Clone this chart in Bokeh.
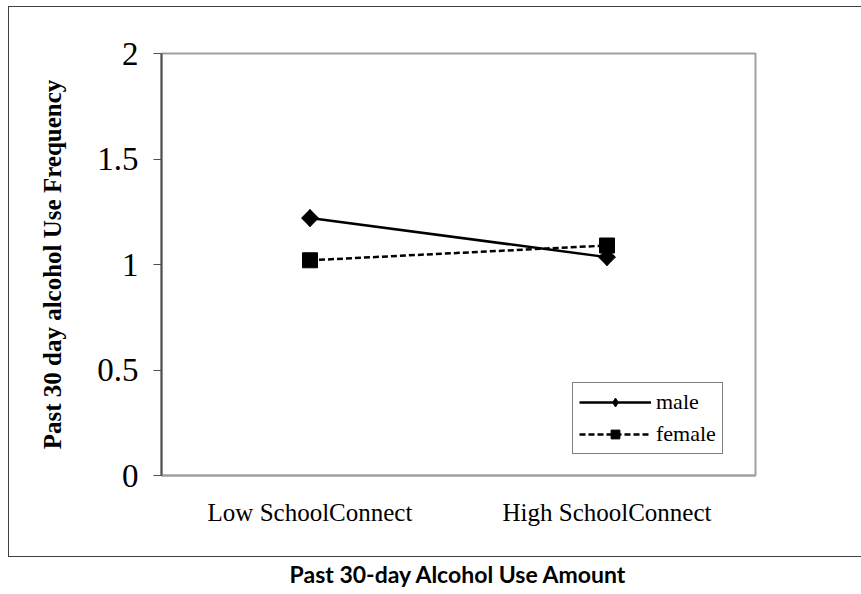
import math
from bokeh.plotting import figure
from bokeh.models import ColumnDataSource, Legend, LegendItem, FactorRange, InlineStyleSheet
from bokeh.embed import file_html
from bokeh.resources import INLINE

categories = ["Low SchoolConnect", "High SchoolConnect"]
male = [1.22, 1.035]
female = [1.02, 1.09]
y_ticks = [0, 0.5, 1, 1.5, 2]
y_title = "Past 30 day alcohol Use Frequency"
bottom_title = "Past 30-day Alcohol Use Amount"

p = figure(width=861, height=594, x_range=FactorRange(*categories), y_range=(0, 2),
           output_backend="svg", toolbar_location=None,
           min_border_left=161, min_border_right=106, min_border_top=53, min_border_bottom=119)
p.background_fill_color = "white"
p.border_fill_color = "white"
p.xgrid.visible = False
p.ygrid.visible = False
p.x_range.range_padding = 0
p.outline_line_color = "#a0a0a0"
p.outline_line_width = 2

# y axis
p.yaxis.ticker = y_ticks
p.yaxis.major_label_overrides = {0: "0", 0.5: "0.5", 1: "1", 1.5: "1.5", 2: "2"}
p.yaxis.axis_line_color = "#505050"
p.yaxis.axis_line_width = 2
p.yaxis.major_tick_line_color = "#505050"
p.yaxis.major_tick_out = 8
p.yaxis.major_tick_in = 0
p.yaxis.minor_tick_line_color = None
p.yaxis.major_label_text_font = "Liberation Serif"
p.yaxis.major_label_text_font_size = "33px"
p.yaxis.major_label_text_color = "black"
p.yaxis.major_label_standoff = 15
p.yaxis.axis_label = y_title
p.yaxis.axis_label_text_font = "Liberation Serif"
p.yaxis.axis_label_text_font_style = "bold"
p.yaxis.axis_label_text_font_size = "25px"
p.yaxis.axis_label_text_color = "black"
p.yaxis.axis_label_standoff = 28

# x axis (its label is the chart's bottom title)
p.xaxis.axis_line_color = "#a0a0a0"
p.xaxis.axis_line_width = 2
p.xaxis.major_tick_line_color = None
p.xaxis.minor_tick_line_color = None
p.xaxis.major_label_text_font = "Liberation Serif"
p.xaxis.major_label_text_font_size = "25px"
p.xaxis.major_label_text_color = "black"
p.xaxis.major_label_standoff = 17
p.xaxis.axis_label = bottom_title
p.xaxis.axis_label_text_font = "Lato"
p.xaxis.axis_label_text_font_style = "bold"
p.xaxis.axis_label_text_font_size = "23px"
p.xaxis.axis_label_text_color = "black"
p.xaxis.axis_label_standoff = 31

src_m = ColumnDataSource(dict(x=categories, y=male))
src_f = ColumnDataSource(dict(x=categories, y=female))

lm = p.line("x", "y", source=src_m, line_color="black", line_width=2.5)
# male markers: a rotated square (wide diamond) with a plain diamond inside it,
# the latter being what the legend swatch shows
mm = p.scatter("x", "y", source=src_m, marker="square", angle=math.pi / 4, size=12,
               fill_color="black", line_color="black")
mm_leg = p.scatter("x", "y", source=src_m, marker="diamond", size=17,
                   fill_color="black", line_color="black")
lf = p.line("x", "y", source=src_f, line_color="black", line_width=2.5, line_dash="6 3")
mf = p.scatter("x", "y", source=src_f, marker="square", size=15,
               fill_color="black", line_color="black")

legend = Legend(items=[LegendItem(label="male", renderers=[lm, mm_leg]),
                       LegendItem(label="female", renderers=[lf, mf])],
                location=(411, 21))
legend.border_line_color = "black"
legend.border_line_width = 1
legend.label_text_font = "Liberation Serif"
legend.label_text_font_size = "22px"
legend.label_text_color = "black"
legend.glyph_width = 72
legend.glyph_height = 22
legend.spacing = 6
legend.padding = 6
legend.margin = 0
legend.label_standoff = 5
legend.background_fill_alpha = 1
p.add_layout(legend, "center")

# outer frame of the chart area (left, top and bottom edges)
p.stylesheets = [InlineStyleSheet(css="""
:host { position: relative; }
:host::after {
  content: ''; position: absolute; left: 8px; top: 6px; right: 0px; height: 551px;
  box-sizing: border-box; pointer-events: none;
  border-left: 1.5px solid #404040; border-top: 1.5px solid #404040; border-bottom: 1.5px solid #404040;
}
""")]

open("out.html", "w").write(file_html(p, INLINE))
